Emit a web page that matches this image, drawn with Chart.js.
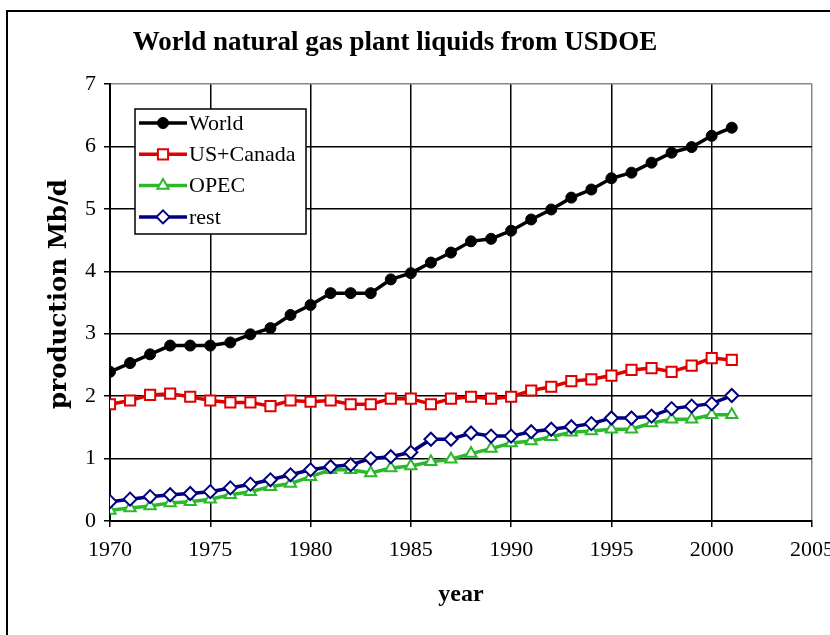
<!DOCTYPE html>
<html>
<head>
<meta charset="utf-8">
<title>World natural gas plant liquids from USDOE</title>
<script src="https://cdn.jsdelivr.net/npm/chart.js@4/dist/chart.umd.min.js"></script>
<style>
  html, body { margin: 0; padding: 0; background: #fff; }
  #wrap { width: 830px; height: 635px; position: relative; }
</style>
</head>
<body>
<div id="wrap"><canvas id="ngplChart" width="830" height="635"></canvas></div>
<script>
// data, Mb/d
const years = [1970, 1971, 1972, 1973, 1974, 1975, 1976, 1977, 1978, 1979,
               1980, 1981, 1982, 1983, 1984, 1985, 1986, 1987, 1988, 1989,
               1990, 1991, 1992, 1993, 1994, 1995, 1996, 1997, 1998, 1999,
               2000, 2001];
const world = [2.39, 2.53, 2.67, 2.81, 2.81, 2.81, 2.86, 2.99, 3.09, 3.30,
               3.46, 3.65, 3.65, 3.65, 3.87, 3.97, 4.14, 4.30, 4.48, 4.52,
               4.65, 4.83, 4.99, 5.18, 5.31, 5.49, 5.58, 5.74, 5.90, 5.99,
               6.17, 6.30];
const usCanada = [1.87, 1.93, 2.02, 2.04, 1.99, 1.93, 1.90, 1.90, 1.84, 1.93,
                  1.91, 1.93, 1.87, 1.87, 1.96, 1.96, 1.87, 1.96, 1.99, 1.96,
                  1.99, 2.09, 2.15, 2.24, 2.27, 2.33, 2.42, 2.45, 2.39, 2.49,
                  2.61, 2.58];
const opec = [0.17, 0.21, 0.24, 0.29, 0.31, 0.35, 0.42, 0.47, 0.55, 0.60,
              0.71, 0.82, 0.82, 0.77, 0.85, 0.88, 0.95, 0.99, 1.08, 1.16,
              1.25, 1.28, 1.35, 1.42, 1.44, 1.47, 1.47, 1.57, 1.63, 1.63,
              1.70, 1.70];
const rest = [0.31, 0.35, 0.39, 0.42, 0.44, 0.47, 0.53, 0.59, 0.66, 0.74,
              0.82, 0.87, 0.90, 1.00, 1.03, 1.10, 1.31, 1.31, 1.41, 1.36,
              1.36, 1.43, 1.47, 1.51, 1.56, 1.65, 1.65, 1.68, 1.80, 1.84,
              1.88, 2.01];
const seriesNames = ['World', 'US+Canada', 'OPEC', 'rest'];
const xTicks = [1970, 1975, 1980, 1985, 1990, 1995, 2000, 2005];
const yTicks = [0, 1, 2, 3, 4, 5, 6, 7];

function pts(vals) {
    return years.map(function(y, i) { return {x: y, y: vals[i]}; });
}

const serif = '"Liberation Serif", "Times New Roman", serif';

// frame round the whole picture plus the chart title
const framePlugin = {
    id: 'frame',
    beforeDraw: function(chart) {
        const ctx = chart.ctx;
        ctx.save();
        ctx.fillStyle = '#fff';
        ctx.fillRect(0, 0, chart.width, chart.height);
        ctx.strokeStyle = '#000';
        ctx.lineWidth = 2;
        ctx.beginPath();
        ctx.moveTo(7, chart.height);
        ctx.lineTo(7, 11);
        ctx.lineTo(chart.width, 11);
        ctx.stroke();
        ctx.fillStyle = '#000';
        ctx.font = 'bold 27px ' + serif;
        ctx.textAlign = 'center';
        ctx.textBaseline = 'middle';
        ctx.fillText('World natural gas plant liquids from USDOE', 395, 43);
        ctx.restore();
    }
};

function marker(ctx, ds, x, y) {
    const r = ds.pointRadius;
    ctx.beginPath();
    if (ds.pointStyle === 'circle') {
        ctx.arc(x, y, r, 0, Math.PI * 2);
    } else if (ds.pointStyle === 'rect') {
        const s = r * Math.SQRT1_2;
        ctx.rect(x - s, y - s, 2 * s, 2 * s);
    } else if (ds.pointStyle === 'triangle') {
        ctx.moveTo(x, y - r);
        ctx.lineTo(x + r * 0.866, y + r * 0.5);
        ctx.lineTo(x - r * 0.866, y + r * 0.5);
        ctx.closePath();
    } else {
        ctx.moveTo(x - r, y);
        ctx.lineTo(x, y - r);
        ctx.lineTo(x + r, y);
        ctx.lineTo(x, y + r);
        ctx.closePath();
    }
    ctx.fillStyle = ds.pointBackgroundColor;
    ctx.fill();
    ctx.lineWidth = ds.pointBorderWidth;
    ctx.strokeStyle = ds.pointBorderColor;
    ctx.stroke();
}

// legend box inside the plot, top left
const boxLegend = {
    id: 'boxLegend',
    afterDraw: function(chart) {
        const ctx = chart.ctx;
        const bx = 135, by = 109, bw = 171, bh = 125;
        ctx.save();
        ctx.fillStyle = '#fff';
        ctx.fillRect(bx, by, bw, bh);
        ctx.strokeStyle = '#000';
        ctx.lineWidth = 1.5;
        ctx.strokeRect(bx, by, bw, bh);
        chart.data.datasets.forEach(function(ds, i) {
            const y = 123 + i * 31.3;
            ctx.strokeStyle = ds.borderColor;
            ctx.lineWidth = ds.borderWidth;
            ctx.beginPath();
            ctx.moveTo(139, y);
            ctx.lineTo(187, y);
            ctx.stroke();
            marker(ctx, ds, 163, y);
            ctx.fillStyle = '#000';
            ctx.font = '22px ' + serif;
            ctx.textAlign = 'left';
            ctx.textBaseline = 'middle';
            ctx.fillText(ds.label, 189, y + 1);
        });
        ctx.restore();
    }
};

function edgeColor(last) {
    return function(c) {
        return c.tick && c.tick.value === last ? '#888' : '#000';
    };
}

const config = {
    type: 'line',
    data: {
        datasets: [{
            label: seriesNames[0],
            data: pts(world),
            borderColor: '#000',
            borderWidth: 3.5,
            pointStyle: 'circle',
            pointRadius: 5.5,
            pointBackgroundColor: '#000',
            pointBorderColor: '#000',
            pointBorderWidth: 1,
            order: 3
        }, {
            label: seriesNames[1],
            data: pts(usCanada),
            borderColor: '#e00000',
            borderWidth: 3.5,
            pointStyle: 'rect',
            pointRadius: 7.2,
            pointBackgroundColor: '#fff',
            pointBorderColor: '#e00000',
            pointBorderWidth: 2,
            order: 2
        }, {
            label: seriesNames[2],
            data: pts(opec),
            borderColor: '#2cb82c',
            borderWidth: 3.5,
            pointStyle: 'triangle',
            pointRadius: 6.5,
            pointBackgroundColor: '#fff',
            pointBorderColor: '#2cb82c',
            pointBorderWidth: 2,
            order: 1
        }, {
            label: seriesNames[3],
            data: pts(rest),
            borderColor: '#000080',
            borderWidth: 3.5,
            pointStyle: 'rectRot',
            pointRadius: 6.5,
            pointBackgroundColor: '#fff',
            pointBorderColor: '#000080',
            pointBorderWidth: 2,
            order: 0
        }]
    },
    options: {
        responsive: false,
        animation: false,
        events: [],
        layout: { padding: { left: 0, right: 18, top: 84, bottom: 0 } },
        plugins: {
            legend: { display: false },
            title: { display: false },
            tooltip: { enabled: false }
        },
        scales: {
            x: {
                type: 'linear',
                min: xTicks[0],
                max: xTicks[xTicks.length - 1],
                afterBuildTicks: function(s) {
                    s.ticks = xTicks.map(function(v) { return {value: v}; });
                },
                afterFit: function(s) {
                    s.height = 114;
                    s.paddingLeft = 0;
                    s.paddingRight = 0;
                },
                ticks: {
                    color: '#000',
                    font: { family: serif, size: 22 },
                    padding: 10,
                    maxRotation: 0,
                    autoSkip: false,
                    callback: function(v) { return String(v); }
                },
                grid: {
                    color: edgeColor(2005),
                    lineWidth: 1.5,
                    tickLength: 6,
                    tickColor: '#000',
                    tickWidth: 1.5
                },
                border: { color: '#000', width: 2 },
                title: {
                    display: true,
                    text: 'year',
                    color: '#000',
                    font: { family: serif, size: 24, weight: 'bold' },
                    padding: { top: 0, bottom: 26 }
                }
            },
            y: {
                min: yTicks[0],
                max: yTicks[yTicks.length - 1],
                afterBuildTicks: function(s) {
                    s.ticks = yTicks.map(function(v) { return {value: v}; });
                },
                afterFit: function(s) {
                    s.width = 110;
                    s.paddingTop = 0;
                    s.paddingBottom = 0;
                },
                ticks: {
                    color: '#000',
                    font: { family: serif, size: 22 },
                    padding: 8
                },
                grid: {
                    color: edgeColor(7),
                    lineWidth: 1.5,
                    tickLength: 6,
                    tickColor: '#000',
                    tickWidth: 1.5
                },
                border: { color: '#000', width: 2 },
                title: {
                    display: true,
                    text: '  production Mb/d',
                    color: '#000',
                    font: { family: '"DejaVu Serif", serif', size: 24.5, weight: 'bold' },
                    padding: { top: 45, bottom: 0 }
                }
            }
        }
    },
    plugins: [framePlugin, boxLegend]
};

const ngplChart = new Chart(document.getElementById('ngplChart'), config);
</script>
</body>
</html>
